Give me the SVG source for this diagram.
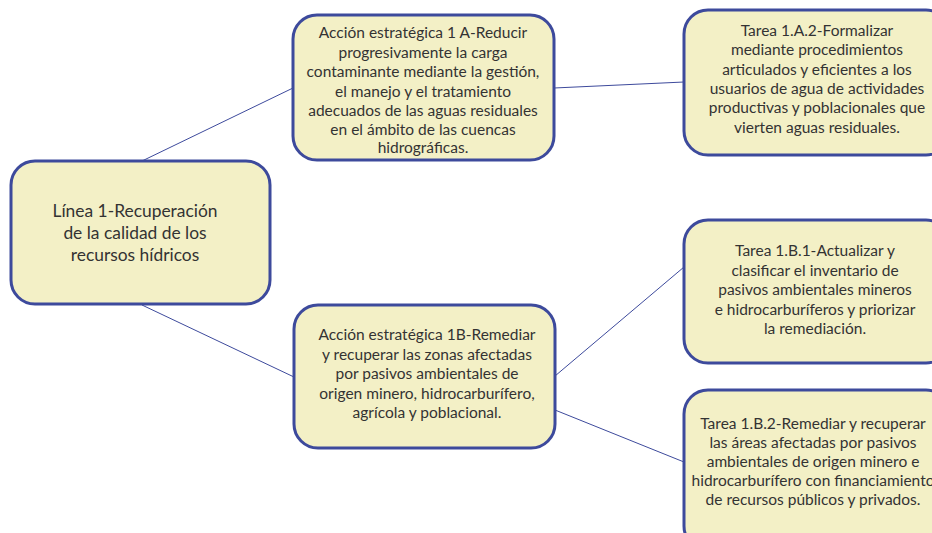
<svg xmlns="http://www.w3.org/2000/svg" width="932" height="533" viewBox="0 0 932 533">
<style>
.box{fill:#f3f0c6;stroke:#3d4a9c;stroke-width:3}
.t{font-family:Lato,"Open Sans","Liberation Sans",sans-serif;font-size:15.5px;fill:#333;text-anchor:middle}
.r{font-size:17.4px}
.c line{stroke:#3d4a9c;stroke-width:1}
</style>
<rect width="932" height="533" fill="#fff"/>
<g class="c" id="connectors">
<line x1="142" y1="161" x2="293" y2="88"/>
<line x1="554" y1="88" x2="684" y2="82"/>
<line x1="142" y1="305" x2="294" y2="377"/>
<line x1="555" y1="376" x2="684" y2="267"/>
<line x1="555" y1="410" x2="684" y2="462"/>
</g>
<g id="root">
<rect class="box" x="11" y="161" width="259" height="143" rx="24"/>
<text class="t r" x="135"><tspan x="135" y="217">Línea 1-Recuperación</tspan><tspan x="135" y="239">de la calidad de los</tspan><tspan x="135" y="261">recursos hídricos</tspan></text>
</g>
<g id="accion1A">
<rect class="box" x="293" y="15" width="261" height="145" rx="24"/>
<text class="t"><tspan x="423" y="38">Acción estratégica 1 A-Reducir</tspan><tspan x="423" y="58">progresivamente la carga</tspan><tspan x="423" y="77">contaminante mediante la gestión,</tspan><tspan x="423" y="97">el manejo y el tratamiento</tspan><tspan x="423" y="116">adecuados de las aguas residuales</tspan><tspan x="423" y="135">en el ámbito de las cuencas</tspan><tspan x="423" y="153">hidrográficas.</tspan></text>
</g>
<g id="tarea1A2">
<rect class="box" x="684" y="10" width="266" height="145" rx="24"/>
<text class="t"><tspan x="817" y="36">Tarea 1.A.2-Formalizar</tspan><tspan x="817" y="55">mediante procedimientos</tspan><tspan x="817" y="75">articulados y eficientes a los</tspan><tspan x="817" y="94">usuarios de agua de actividades</tspan><tspan x="817" y="113">productivas y  poblacionales que</tspan><tspan x="817" y="133">vierten aguas  residuales.</tspan></text>
</g>
<g id="accion1B">
<rect class="box" x="294" y="305" width="261" height="143" rx="24"/>
<text class="t"><tspan x="427" y="340">Acción estratégica 1B-Remediar</tspan><tspan x="427" y="360">y recuperar las zonas afectadas</tspan><tspan x="427" y="379">por pasivos ambientales de</tspan><tspan x="427" y="399">origen minero, hidrocarburífero,</tspan><tspan x="427" y="418">agrícola y poblacional.</tspan></text>
</g>
<g id="tarea1B1">
<rect class="box" x="684" y="220" width="266" height="143" rx="24"/>
<text class="t"><tspan x="815" y="256">Tarea 1.B.1-Actualizar y</tspan><tspan x="815" y="276">clasificar el inventario de</tspan><tspan x="815" y="295">pasivos ambientales mineros</tspan><tspan x="815" y="315">e hidrocarburíferos y priorizar</tspan><tspan x="815" y="334">la remediación.</tspan></text>
</g>
<g id="tarea1B2">
<rect class="box" x="684" y="390" width="266" height="160" rx="24"/>
<text class="t"><tspan x="813" y="429">Tarea 1.B.2-Remediar y recuperar</tspan><tspan x="813" y="448">las áreas afectadas por pasivos</tspan><tspan x="813" y="467">ambientales de origen minero e</tspan><tspan x="813" y="486">hidrocarburífero con financiamiento</tspan><tspan x="813" y="505">de recursos públicos y privados.</tspan></text>
</g>
</svg>
